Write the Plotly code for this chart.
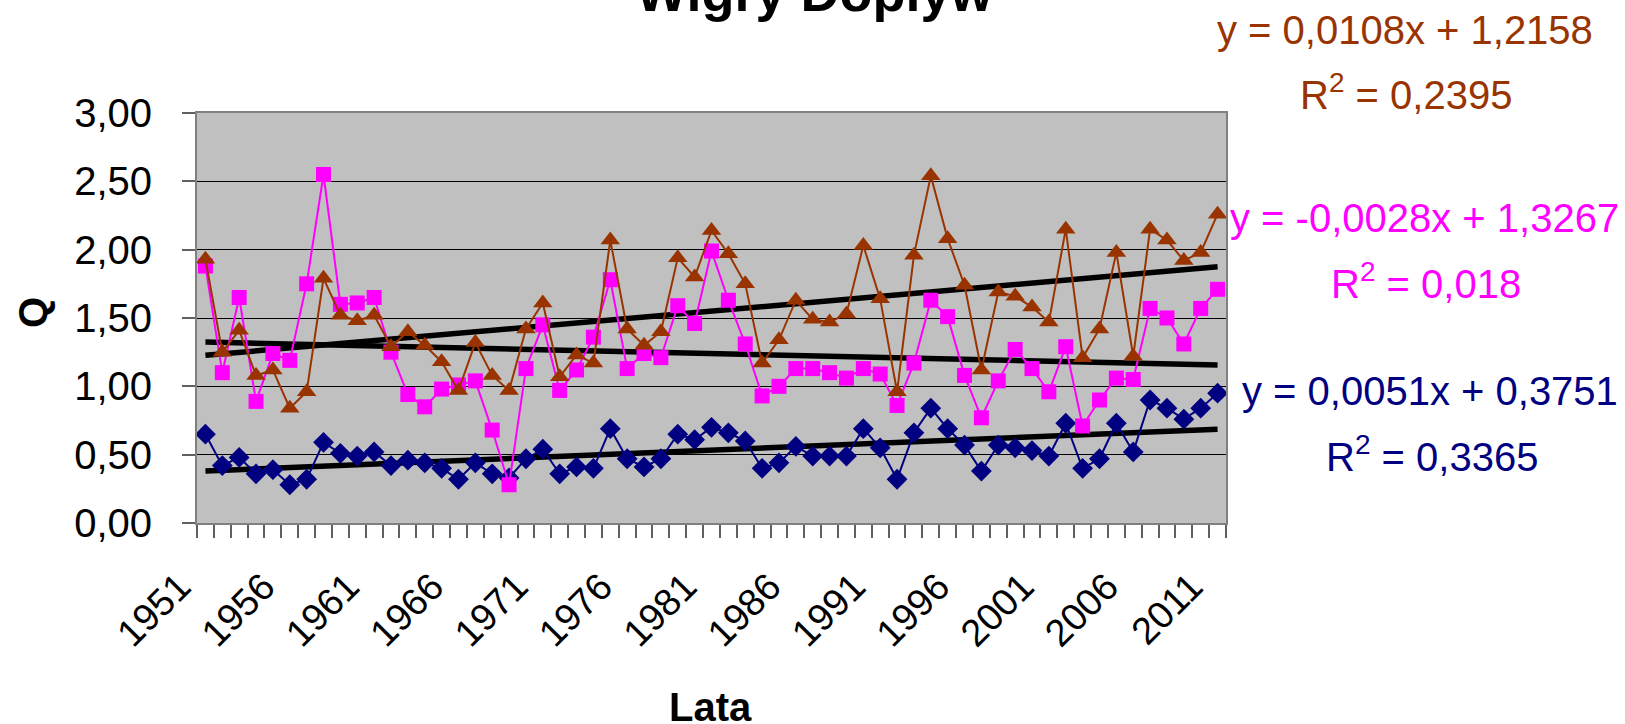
import numpy as np
import plotly.graph_objects as go

# ---------------- data ----------------
years = list(range(1951, 2012))

navy_vals = [0.65, 0.42, 0.48, 0.36, 0.39, 0.28, 0.32, 0.59, 0.51, 0.49,
             0.52, 0.42, 0.46, 0.44, 0.40, 0.32, 0.44, 0.36, 0.33, 0.47,
             0.54, 0.36, 0.41, 0.40, 0.69, 0.47, 0.41, 0.47, 0.65, 0.61,
             0.70, 0.66, 0.60, 0.40, 0.44, 0.56, 0.49, 0.49, 0.49, 0.69,
             0.55, 0.32, 0.66, 0.84, 0.69, 0.57, 0.38, 0.57, 0.55, 0.53,
             0.49, 0.73, 0.40, 0.47, 0.73, 0.52, 0.90, 0.84, 0.76, 0.84,
             0.95]

magenta_vals = [1.88, 1.10, 1.65, 0.89, 1.24, 1.19, 1.75, 2.55, 1.60, 1.61,
                1.65, 1.25, 0.94, 0.85, 0.98, 1.01, 1.04, 0.68, 0.28, 1.13,
                1.45, 0.97, 1.12, 1.36, 1.78, 1.13, 1.24, 1.21, 1.59, 1.46,
                1.99, 1.63, 1.31, 0.93, 1.00, 1.13, 1.13, 1.10, 1.06, 1.13,
                1.09, 0.86, 1.17, 1.63, 1.51, 1.08, 0.77, 1.04, 1.27, 1.13,
                0.96, 1.29, 0.71, 0.90, 1.06, 1.05, 1.57, 1.50, 1.31, 1.57,
                1.71]

brown_vals = [1.93, 1.25, 1.41, 1.08, 1.12, 0.84, 0.96, 1.79, 1.52, 1.48,
              1.52, 1.29, 1.40, 1.30, 1.18, 0.97, 1.32, 1.08, 0.97, 1.42,
              1.61, 1.07, 1.23, 1.17, 2.07, 1.42, 1.30, 1.40, 1.94, 1.80,
              2.14, 1.97, 1.75, 1.17, 1.34, 1.63, 1.49, 1.47, 1.53, 2.03,
              1.64, 0.96, 1.96, 2.54, 2.08, 1.74, 1.12, 1.69, 1.66, 1.58,
              1.47, 2.15, 1.21, 1.42, 1.98, 1.22, 2.15, 2.07, 1.92, 1.98,
              2.26]

# trend line coefficients as printed on the chart
trend_slope = {"navy": 0.0051, "magenta": -0.0028, "brown": 0.0108}
trend_intercept = {"navy": 0.3751, "magenta": 1.3267, "brown": 1.2158}
trend_r2 = {"navy": "0,3365", "magenta": "0,018", "brown": "0,2395"}
trend_eq = {"navy": "y = 0,0051x + 0,3751",
            "magenta": "y = -0,0028x + 1,3267",
            "brown": "y = 0,0108x + 1,2158"}

y_ticks = [0, 0.5, 1.0, 1.5, 2.0, 2.5, 3.0]
y_tick_text = ["0,00", "0,50", "1,00", "1,50", "2,00", "2,50", "3,00"]
x_label_years = list(range(1951, 2012, 5))

title_text = "Wigry Dopływ"
x_title = "Lata"
y_title = "Q"

# ---------------- styling ----------------
W, H = 1625, 724
L, R, T, B = 197, 1226, 113, 523
FONT = "Liberation Sans, Arial, sans-serif"
COL = {"navy": "#000080", "magenta": "#FF00FF", "brown": "#993300"}


def px(xp):
    return (xp - L) / (R - L)


def py(yp):
    return (B - yp) / (B - T)


fig = go.Figure()

# trend lines
idx = np.arange(1, len(years) + 1)
for key in ["navy", "magenta", "brown"]:
    fig.add_trace(go.Scatter(
        x=years, y=trend_slope[key] * idx + trend_intercept[key],
        mode="lines", line=dict(color="black", width=5.5),
        showlegend=False, hoverinfo="skip"))

fig.add_trace(go.Scatter(
    x=years, y=navy_vals, mode="lines+markers",
    line=dict(color=COL["navy"], width=2),
    marker=dict(symbol="diamond", size=16, color=COL["navy"]),
    showlegend=False))
fig.add_trace(go.Scatter(
    x=years, y=magenta_vals, mode="lines+markers",
    line=dict(color=COL["magenta"], width=2),
    marker=dict(symbol="square", size=15, color=COL["magenta"]),
    showlegend=False))
fig.add_trace(go.Scatter(
    x=years, y=brown_vals, mode="lines+markers",
    line=dict(color=COL["brown"], width=2),
    marker=dict(symbol="triangle-up", size=17, color=COL["brown"]),
    showlegend=False))

fig.update_layout(
    width=W, height=H,
    margin=dict(l=L, r=W - R, t=T, b=H - B, pad=0),
    paper_bgcolor="white", plot_bgcolor="#C0C0C0",
    font=dict(family=FONT, color="black"),
    showlegend=False,
)

fig.update_xaxes(
    range=[years[0] - 0.5, years[-1] + 0.5],
    tickmode="array", tickvals=x_label_years,
    ticktext=[str(v) for v in x_label_years],
    tickangle=-45, tickfont=dict(size=38, family=FONT, color="black"),
    ticks="outside", ticklen=24, tickcolor="rgba(0,0,0,0)",
    ticklabelshift=-26,
    minor=dict(ticks="outside", ticklen=13, tickcolor="#606060",
               tickwidth=1.5, tick0=years[0] - 0.5, dtick=1, showgrid=False),
    showgrid=False, zeroline=False,
    showline=True, linecolor="#808080", linewidth=2, mirror=True,
)

fig.update_yaxes(
    range=[0, 3], tickmode="array", tickvals=y_ticks, ticktext=y_tick_text,
    tickfont=dict(size=40, family=FONT, color="black"),
    ticks="outside", ticklen=13, tickcolor="#606060", tickwidth=1.5,
    ticklabelstandoff=22,
    showgrid=True, gridcolor="black", gridwidth=1, zeroline=False,
    showline=True, linecolor="#808080", linewidth=2, mirror=True,
)

ann = []
# title (mostly cropped at the top of the picture)
ann.append(dict(text="<b>%s</b>" % title_text, x=px(815), y=py(-8),
                xref="paper", yref="paper", showarrow=False,
                xanchor="center", yanchor="middle",
                font=dict(size=54, family=FONT, color="black")))
ann.append(dict(text="<b>%s</b>" % x_title, x=px(710), y=py(707),
                xref="paper", yref="paper", showarrow=False,
                xanchor="center", yanchor="middle",
                font=dict(size=40, family=FONT, color="black")))
ann.append(dict(text="<b>%s</b>" % y_title, x=px(33), y=py(313),
                xref="paper", yref="paper", showarrow=False, textangle=-90,
                xanchor="center", yanchor="middle",
                font=dict(size=40, family=FONT, color="black")))

eq_pos = {"brown": (1405, 30, 1406, 92),
          "magenta": (1424, 218, 1426, 281),
          "navy": (1430, 391, 1432, 454)}
for key, (ex, ey, rx, ry) in eq_pos.items():
    ann.append(dict(text=trend_eq[key], x=px(ex), y=py(ey),
                    xref="paper", yref="paper", showarrow=False,
                    xanchor="center", yanchor="middle",
                    font=dict(size=40, family=FONT, color=COL[key])))
    ann.append(dict(text="R<sup>2</sup> = %s" % trend_r2[key], x=px(rx), y=py(ry),
                    xref="paper", yref="paper", showarrow=False,
                    xanchor="center", yanchor="middle",
                    font=dict(size=40, family=FONT, color=COL[key])))

fig.update_layout(annotations=ann)

fig.write_html("out.html", config={"displayModeBar": False},
               post_script="document.body.style.margin='0';")
